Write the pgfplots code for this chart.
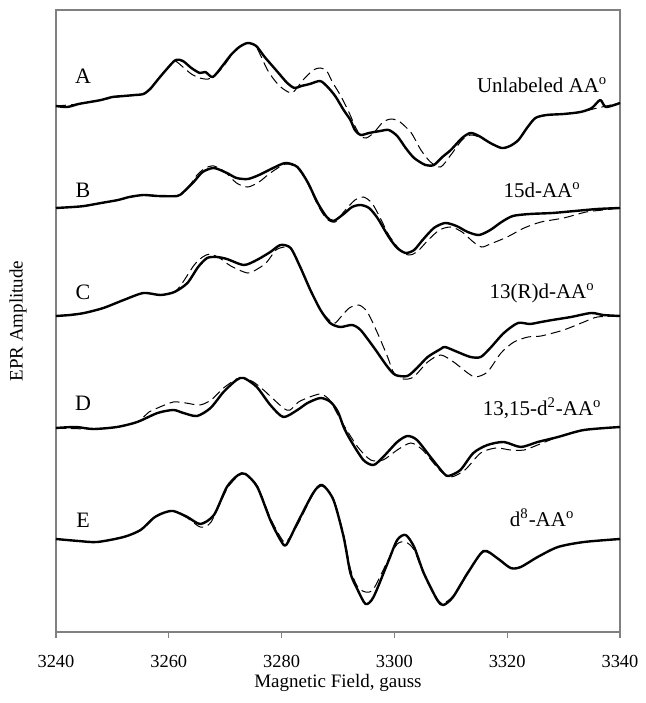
\documentclass[border=0pt]{standalone}
\usepackage{pgfplots}
\pgfplotsset{compat=1.18}
\usepackage{fontspec}
\setmainfont{Liberation Serif}

\begin{document}
\begin{tikzpicture}
\begin{axis}[
  scale only axis,
  width=282pt, height=311pt,
  xmin=3240, xmax=3340,
  ymin=0, ymax=622,
  xtick={3240,3260,3280,3300,3320,3340},
  ytick=\empty,
  xtick pos=bottom,
  tick align=outside,
  major tick length=3pt,
  axis line style={gray, line width=0.6pt},
  every tick/.style={gray, line width=0.6pt},
  /pgf/number format/assume math mode=true,
  /pgf/number format/1000 sep={},
  xticklabel style={font=\fontsize{9.2}{10}\selectfont, yshift=-5pt},
  xlabel={Magnetic Field, gauss},
  ylabel={EPR Amplitude},
  xlabel style={font=\fontsize{9.5}{11}\selectfont, at={(axis description cs:0.5,0)}, anchor=center, yshift=-25.5pt},
  ylabel style={font=\fontsize{9.5}{11}\selectfont, at={(axis description cs:0,0.5)}, anchor=center, yshift=19pt},
  clip=false,
  solid trace/.style={black, line width=1.2pt, line join=round, smooth, tension=0.45},
  fit trace/.style={black, line width=0.5pt, dash pattern=on 5pt off 2.5pt, smooth, tension=0.45},
]

% ---- A: unlabeled
\addplot[solid trace] table {
3240 526
3242 525
3244 528
3246 530
3248 532
3250 535
3252 536
3254 537
3255.5 538
3256.7 543
3258 552
3259.5 562
3261.2 572
3262.5 571
3264 564
3265.5 559
3266.5 560
3267.8 555
3269.5 566
3271 577
3272.5 585
3274 589
3275.5 586
3277 575
3279 562
3281 549
3282.3 544
3283.5 546
3285 548
3286.8 551
3288 546
3289.5 536
3291 522
3292.2 512
3293 502
3294 497
3295.5 499
3297.5 501
3299 502
3300.5 496
3302 484
3303.5 474
3305.5 467
3307 467
3308.5 475
3310 482
3312 494
3313.5 499
3315 496
3317 489
3319 484
3320.5 486
3322 492
3323.5 504
3325 514
3327 517
3330 518
3333 520
3335 524
3336.5 532
3337.5 525
3340 529
};
\addplot[fit trace] table {
3240 526
3244 528
3248 532
3252 536
3255.5 538
3258 552
3259.5 562
3261 571
3262.5 565
3264 558
3265.5 554
3267 553
3268.5 558
3270 568
3271.5 580
3273 587
3274 589
3275.5 585
3277.5 562
3279 550
3280.3 543
3281.8 539
3283 546
3283.8 552
3285.6 562
3286.9 564
3288 561
3289 550
3290.5 536
3292 519
3293 506
3294 496
3295 494
3296.3 499
3298 510
3299.5 513
3301 510
3303 499
3304.7 482
3306.4 470
3308.2 465
3310 477
3312 492
3313.5 497
3315 495
3317 489
3319 484
3320.5 486
3322 492
3323.5 504
3325 514
3327 517
3330 518
3333 520
3336 524
3340 529
};

% ---- B: 15d
\addplot[solid trace] table {
3240 424
3243 425
3245 426
3248 429
3251 432
3253 435
3255.5 437
3258 436
3261.5 436
3262.6 440
3264.4 450
3266 460
3268 464
3270.3 459
3272 454
3274 453
3276 457
3278.5 464
3280.7 469
3282.8 465
3284.6 450
3286.4 429
3288 415
3289.2 411
3291 418
3292.5 425
3294 427
3295.5 424
3297 414
3299 395
3300.5 384
3302 379
3303.5 382
3305 392
3307 404
3309 409
3311 406
3313 400
3315 397
3317 402
3319 410
3321 416
3324 418
3328 419
3332 421
3336 423
3340 424
};
\addplot[fit trace] table {
3240 424
3245 426
3251 432
3255.5 437
3261.5 436
3263.5 445
3265 457
3266.5 464
3268 466
3270 460
3272 449
3274 445
3276 450
3278 459
3280.7 468
3282.8 464
3284.6 449
3286.4 427
3288 413
3289.5 410
3291 420
3293 432
3294.5 435
3296 429
3297.5 414
3299 397
3301 382
3302.5 377
3304 380
3306 392
3308 402
3310 405
3312 400
3314 390
3315.5 385
3317 388
3320 395
3323 404
3326 410
3330 414
3334 420
3337 422
3340 424
};

% ---- C: 13(R)d
\addplot[solid trace] table {
3240 316
3242.5 317
3245 319
3248.4 324
3252 332
3255.5 339
3258.5 337
3261 340
3263.3 349
3265.2 365
3266.8 374
3268.5 375
3270.3 373
3273.3 367
3275.6 372
3278 380
3279.8 387
3281.6 384
3283.3 365
3285.1 342
3286.9 322
3288.6 309
3290.4 305
3292.5 307
3294 302
3296.3 285
3298.8 265
3300.2 257
3302.3 256
3304 264
3305.9 275
3308.2 283
3309 285
3311.2 280
3313.5 275
3315.3 275
3317 284
3319.4 299
3321.9 309
3324 308
3326 310
3328 312
3331.3 315
3334.9 319
3337 317
3340 316
};
\addplot[fit trace] table {
3240 316
3245 319
3248.4 324
3252 332
3255.5 339
3258.5 337
3261 340
3262.4 349
3264.5 367
3266 375
3267.3 378
3269 374
3271 366
3274 359
3276 364
3277.4 370
3279 382
3280.5 385
3281.6 384
3283.3 365
3285.1 342
3286.9 322
3288.6 311
3289.5 309
3290.5 315
3292 324
3293.7 327
3295.2 320
3297 299
3298.8 275
3299.9 259
3301.6 253
3303.4 255
3305.9 270
3308.2 277
3310.5 270
3313 259
3314.4 255
3316.5 260
3318.9 279
3321.2 290
3323.7 295
3326 296
3330 302
3333.6 310
3336 315
3340 316
};

% ---- D: 13,15-d2
\addplot[solid trace] table {
3240 204
3243.5 205
3246.6 203
3250.8 205
3254.4 210
3258 219
3260.8 222
3262.6 219
3265 216
3267.4 224
3269.7 240
3272 252
3273.3 254
3275.6 245
3278 227
3280.3 215
3282.8 222
3284.6 229
3286.9 234
3288.7 230
3290 220
3291 205
3292.2 192
3294.5 172
3296.3 167
3298 175
3300.5 190
3302.3 196
3304 192
3306.4 175
3308.7 159
3309.6 156
3311.7 162
3314 179
3316.5 187
3319.4 190
3322.4 185
3325.4 190
3329 195
3333.6 202
3340 205
};
\addplot[fit trace] table {
3240 204
3246.6 203
3250.8 205
3254.4 210
3256.5 220
3258 224
3260.8 230
3263 229
3265.5 227
3267.5 232
3269.7 244
3272 253
3273.3 254
3275 250
3276.8 242
3280.3 224
3281.5 222
3283 230
3285 235
3287 238
3288.5 232
3289.8 219
3291 207
3293.5 185
3295.8 172
3298 172
3300.5 182
3302.9 189
3305 182
3308 162
3310 155
3312.5 162
3315.3 179
3318 184
3320.6 182
3323 182
3325.4 187
3329 195
3333.6 202
3340 205
};

% ---- E: d8
\addplot[solid trace] table {
3240 93
3244 91
3247.3 90
3252 95
3255 102
3257.3 114
3259 119
3260.8 121
3263.3 115
3265.6 108
3268 117
3270.3 145
3272.3 157
3273.6 158
3275.7 145
3278 112
3279.8 92
3280.8 87
3282.8 109
3285.6 139
3287.2 147
3289.2 132
3291 95
3292.2 59
3293.5 42
3294.9 28
3296.3 35
3298.8 69
3300.5 92
3302 97
3303.5 85
3305.2 59
3307.6 32
3308.7 27
3310.4 35
3313 59
3315.8 81
3318.2 74
3320.6 64
3322.4 65
3325.4 75
3329 85
3333.6 90
3340 93
};
\addplot[fit trace] table {
3240 93
3247.3 90
3252 95
3255 102
3257.3 114
3259 119
3260.8 121
3263.3 114
3265.6 105
3267.5 110
3270.3 143
3272.3 156
3273.6 158
3275.7 146
3278 114
3279.8 95
3280.8 90
3282.8 107
3285.6 138
3287.2 146
3289.2 133
3291 97
3292.2 63
3293.5 45
3294.9 40
3296.3 43
3298.8 71
3300.5 88
3302 90
3303.5 82
3305.2 58
3307.6 33
3308.7 29
3310.4 36
3313 60
3315.8 80
3318.2 74
3320.6 64
3322.4 65
3325.4 75
3329 85
3333.6 90
3340 93
};

% trace letters and names
\begin{scope}[every node/.style={font=\fontsize{11}{12}\selectfont}]
\node at (axis cs:3244.8,556) {A};
\node at (axis cs:3244.8,442) {B};
\node at (axis cs:3244.8,340) {C};
\node at (axis cs:3244.8,229) {D};
\node at (axis cs:3244.8,112) {E};
\end{scope}
\begin{scope}[every node/.style={font=\fontsize{10.5}{12}\selectfont}]
\node at (axis cs:3326.2,547) {Unlabeled AA\textsuperscript{o}};
\node at (axis cs:3326.2,442) {15d-AA\textsuperscript{o}};
\node at (axis cs:3326.2,339) {13(R)d-AA\textsuperscript{o}};
\node at (axis cs:3326.2,224) {13,15-d\textsuperscript{2}-AA\textsuperscript{o}};
\node at (axis cs:3326.2,114) {d\textsuperscript{8}-AA\textsuperscript{o}};
\end{scope}
\end{axis}
\path (current axis.south west) ++(-28pt,-35.5pt) coordinate (bbSW);
\path (current axis.north east) ++(9.5pt,5pt) coordinate (bbNE);
\path (bbSW) rectangle (bbNE);
\end{tikzpicture}
\end{document}
